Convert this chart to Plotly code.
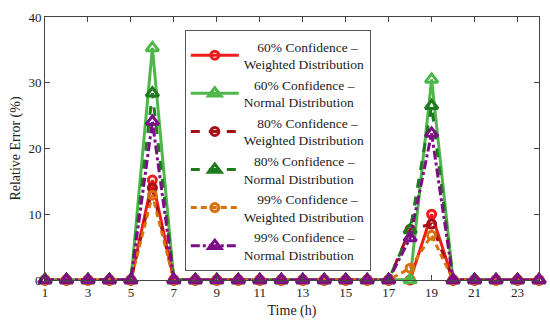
import plotly.graph_objects as go

hours = list(range(1, 25))

def series(peaks):
    v = [0.0] * 24
    for h, val in peaks.items():
        v[h - 1] = val
    return v

w60 = series({6: 15.2, 19: 10.0})
n60 = series({6: 35.3, 19: 30.5})
w80 = series({6: 14.0, 18: 7.7, 19: 8.5})
n80 = series({6: 28.4, 18: 7.6, 19: 26.5})
w99 = series({6: 12.9, 18: 1.8, 19: 6.8})
n99 = series({6: 24.1, 18: 6.4, 19: 22.3})

names = [
    "\u00a0\u00a0\u00a0\u00a060% Confidence –<br>Weighted Distribution",
    "\u00a0\u00a0\u00a060% Confidence –<br>Normal Distribution",
    "\u00a0\u00a0\u00a0\u00a080% Confidence –<br>Weighted Distribution",
    "\u00a0\u00a0\u00a080% Confidence –<br>Normal Distribution",
    "\u00a0\u00a0\u00a0\u00a099% Confidence –<br>Weighted Distribution",
    "\u00a0\u00a0\u00a099% Confidence –<br>Normal Distribution",
]
data = [w60, n60, w80, n80, w99, n99]
colors = ["#EE1C1C", "#4DB849", "#A50F15", "#1F7A1F", "#D9700A", "#7E0C86"]
dashes = ["solid", "solid", "dash", "dash", "6px,4px", "dashdot"]
symbols = ["circle-open", "triangle-up-open", "circle-open", "triangle-up-open",
           "circle-open", "triangle-up-open"]
sizes = [8, 11, 8, 11, 8, 11]

fig = go.Figure()
for name, y, c, d, s, sz in zip(names, data, colors, dashes, symbols, sizes):
    fig.add_trace(go.Scatter(
        x=hours, y=y, name=name, mode="lines+markers", cliponaxis=False,
        line=dict(color=c, width=3, dash=d),
        marker=dict(symbol=s, size=sz, color=c, line=dict(color=c, width=3)),
    ))

font = "Liberation Serif"
fig.update_layout(
    width=550, height=328,
    margin=dict(l=45, r=11, t=17, b=48),
    paper_bgcolor="white", plot_bgcolor="white",
    font=dict(family=font, size=14, color="#222"),
    showlegend=True,
    legend=dict(
        x=0.283, y=0.95, xanchor="left", yanchor="top",
        bordercolor="#555", borderwidth=1, bgcolor="white",
        font=dict(family=font, size=13.5, color="#222"),
        itemwidth=48, tracegroupgap=0,
    ),
    xaxis=dict(
        range=[1, 24], tickvals=list(range(1, 24, 2)),
        ticks="inside", ticklen=5, tickcolor="#444",
        showline=True, linecolor="#444", linewidth=1, mirror="ticks",
        showgrid=False, zeroline=False, automargin=False,
        title=dict(text="Time (h)", standoff=6, font=dict(size=14)),
        tickfont=dict(size=13),
    ),
    yaxis=dict(
        range=[0, 40], tickvals=[0, 10, 20, 30, 40],
        ticks="inside", ticklen=5, tickcolor="#444",
        showline=True, linecolor="#444", linewidth=1, mirror="ticks",
        showgrid=False, zeroline=False, automargin=False,
        title=dict(text="Relative Error (%)", standoff=4, font=dict(size=14)),
        tickfont=dict(size=13),
    ),
)

fig.write_html("out.html", config={"displayModeBar": False},
               post_script="document.body.style.margin='0';")
